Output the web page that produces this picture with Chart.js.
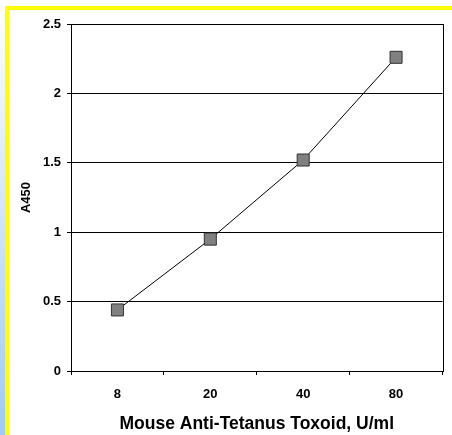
<!DOCTYPE html>
<html>
<head>
<meta charset="utf-8">
<script src="https://cdn.jsdelivr.net/npm/chart.js@4"></script>
<style>
  html, body { margin: 0; padding: 0; }
  body {
    width: 452px; height: 435px; overflow: hidden; position: relative;
    background: linear-gradient(to bottom, #ffffff 0%, #dce9fb 40%, #9ec9f8 100%);
  }
  #frame {
    position: absolute; left: 5px; top: 6px; width: 443px; height: 425px;
    border-top: 4px solid #ffff00; border-left: 4px solid #ffff00;
    background: #ffffff;
  }
</style>
</head>
<body>
<div id="frame"><canvas id="grafico" width="443" height="425"></canvas></div>
<script>
// datos de la grafica
const categorias = ["8", "20", "40", "80"];
const valoresA450 = [0.44, 0.95, 1.52, 2.26];
const ticksY = [0, 0.5, 1, 1.5, 2, 2.5];

const fuente = "'Liberation Sans', Arial, sans-serif";

// borde del area de trazado (lado derecho incluido)
const bordeArea = {
  id: "bordeArea",
  afterDraw(chart) {
    const a = chart.chartArea;
    const ctx = chart.ctx;
    ctx.save();
    ctx.strokeStyle = "#000";
    ctx.lineWidth = 1;
    ctx.strokeRect(Math.round(a.left) + 0.5, Math.round(a.top) + 0.5,
      Math.round(a.right - a.left), Math.round(a.bottom - a.top));
    ctx.restore();
  }
};

let ctx = document.getElementById("grafico").getContext("2d");

let miGrafico = new Chart(ctx, {
  type: "line",
  data: {
    labels: categorias,
    datasets: [{
      data: valoresA450,
      borderColor: "#000",
      borderWidth: 1,
      backgroundColor: "#808080",
      pointStyle: "rect",
      pointRadius: 8.5,
      pointBorderColor: "#333",
      pointBorderWidth: 1,
      tension: 0
    }]
  },
  options: {
    responsive: false,
    animation: false,
    layout: { padding: { left: 0, right: 8, top: 14, bottom: 0 } },
    plugins: { legend: { display: false }, tooltip: { enabled: false } },
    scales: {
      x: {
        type: "category",
        offset: true,
        grid: { display: true, offset: true, drawOnChartArea: false, color: "#000", tickLength: 4 },
        border: { color: "#000" },
        ticks: { color: "#000", font: { family: fuente, size: 13, weight: "bold" }, padding: 12 },
        title: { display: true, text: "Mouse Anti-Tetanus Toxoid, U/ml", color: "#000",
                 font: { family: fuente, size: 17.5, weight: "bold" }, padding: { top: 6, bottom: 0 } },
        afterFit(scale) { scale.height = 64; }
      },
      y: {
        min: 0,
        max: 2.5,
        afterBuildTicks(scale) { scale.ticks = ticksY.map(v => ({ value: v })); },
        grid: { color: "#000", lineWidth: 1, tickLength: 4 },
        border: { color: "#000" },
        ticks: { color: "#000", font: { family: fuente, size: 13, weight: "bold" }, padding: 6,
                 callback: v => String(v) },
        title: { display: true, text: "A450", color: "#000",
                 font: { family: fuente, size: 13, weight: "bold" }, padding: { top: 10, bottom: 0 } },
        afterFit(scale) { scale.width = 62; }
      }
    }
  },
  plugins: [bordeArea]
});
</script>
</body>
</html>
